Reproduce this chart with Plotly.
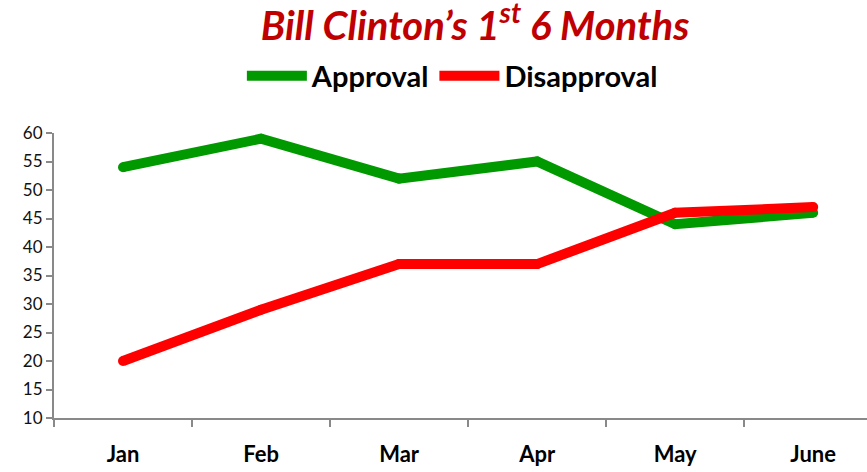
import plotly.graph_objects as go

months = ['Jan', 'Feb', 'Mar', 'Apr', 'May', 'June']
approval = [54, 59, 52, 55, 44, 46]
disapproval = [20, 29, 37, 37, 46, 47]
y_ticks = [10, 15, 20, 25, 30, 35, 40, 45, 50, 55, 60]

GREEN = '#009900'
RED = '#ff0000'
FONT = 'Lato, Open Sans, sans-serif'


def trace_line(y, name, color):
    line = go.Scatter(x=months,
                      y=y,
                      mode='lines',
                      name=name,
                      line={'color': color, 'width': 10},
                      legendgroup=name)
    # round caps / joins
    dots = go.Scatter(x=months,
                      y=y,
                      mode='markers',
                      showlegend=False,
                      hoverinfo='skip',
                      legendgroup=name,
                      marker={'color': color, 'size': 10, 'line': {'width': 0}})
    return line, dots


fig = go.Figure()
fig.add_traces(trace_line(approval, 'Approval', GREEN))
fig.add_traces(trace_line(disapproval, 'Disapproval', RED))

fig.update_layout(
    width=867, height=472,
    margin=dict(l=54, r=0, t=133, b=54),
    plot_bgcolor='white',
    paper_bgcolor='white',
    title=dict(text='<b><i>Bill Clinton’s 1<sup>st</sup> 6 Months</i></b>',
               x=0.548, xanchor='center', y=0.945, yanchor='middle',
               font=dict(family=FONT, size=40, color='#c00000')),
    legend=dict(orientation='h', x=0.49, xanchor='center', y=1.2, yanchor='middle',
                font=dict(family=FONT, size=29, color='black', weight='bold'),
                itemwidth=60, tracegroupgap=0),
    showlegend=True,
)
fig.update_xaxes(type='category', range=[-0.5, 5.39],
                 showline=True, linecolor='#898989', linewidth=2,
                 ticks='outside', tickson='boundaries', ticklen=7, tickcolor='#898989', tickwidth=2,
                 showgrid=False, ticklabelstandoff=16,
                 tickfont=dict(family=FONT, size=22, color='black', weight='bold'))
fig.update_yaxes(range=[10, 60], tickvals=y_ticks,
                 showline=True, linecolor='#898989', linewidth=2,
                 ticks='outside', ticklen=6, tickcolor='#898989', tickwidth=2,
                 showgrid=False, zeroline=False,
                 tickfont=dict(family=FONT, size=17, color='#111111'))

fig.write_html("out.html", config={'displayModeBar': False},
               post_script="document.body.style.margin='0';")
